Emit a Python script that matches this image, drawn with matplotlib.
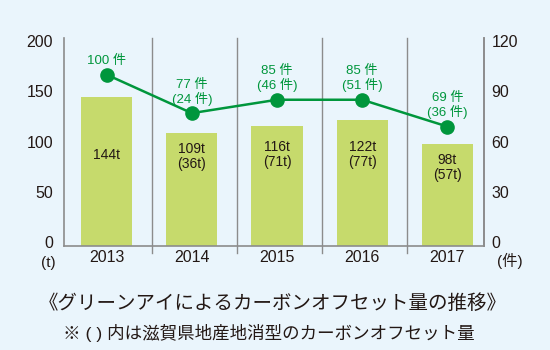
"""Green Eye carbon offset chart."""
import matplotlib
matplotlib.use("Agg")
import matplotlib.pyplot as plt

years = ["2013", "2014", "2015", "2016", "2017"]
offset_t = [144, 109, 116, 122, 98]
local_t = [None, 36, 71, 77, 57]
cases = [100, 77, 85, 85, 69]
local_cases = [None, 24, 46, 51, 36]

plt.rcParams["font.family"] = ["Liberation Sans", "Noto Sans CJK JP"]

bg = "#eaf5fc"
bar_color = "#c6da6c"
green = "#00963c"
axis_gray = "#8c8c8c"
text_color = "#231815"

fig = plt.figure(figsize=(5.5, 3.5), dpi=100, facecolor=bg)
ax = fig.add_axes([0.1164, 0.297, 0.7636, 0.594])
ax.set_facecolor(bg)

x = list(range(len(years)))
base = -4
ax.bar(x, [v - base for v in offset_t], bottom=base, width=0.6,
       color=bar_color, zorder=2)
ax.set_ylim(base, 203)
ax.set_xlim(-0.5, 4.43)
ax.set_yticks([0, 50, 100, 150, 200])
ax.set_xticks(x)
ax.set_xticklabels(years)
ax.tick_params(length=0, labelsize=11.5, colors=text_color)
ax.tick_params(axis="x", pad=3)
ax.tick_params(axis="y", pad=8)

ax.spines["top"].set_visible(False)
for s in ["left", "right", "bottom"]:
    ax.spines[s].set_color(axis_gray)
    ax.spines[s].set_linewidth(1.2)

# separators between years
for i in range(len(years) - 1):
    ax.axvline(i + 0.53, ymin=-0.034, ymax=1, color=axis_gray, lw=1.0,
               clip_on=False, zorder=1)

# labels inside bars
for i, v in enumerate(offset_t):
    label = f"{v}t" if local_t[i] is None else f"{v}t\n({local_t[i]}t)"
    ax.text(i, min(v - 24, 87), label, ha="center", va="center",
            fontsize=10, color=text_color, linespacing=1.1, zorder=3)

ax2 = ax.twinx()
ax2.set_ylim(base * 0.6, 203 * 0.6)
ax2.set_yticks([0, 30, 60, 90, 120])
ax2.tick_params(length=0, labelsize=11.5, colors=text_color, pad=5.5)
for s in ["top", "left", "bottom"]:
    ax2.spines[s].set_visible(False)
ax2.spines["right"].set_color(axis_gray)
ax2.spines["right"].set_linewidth(1.2)

ax2.plot(x, cases, color=green, lw=1.8, marker="o", markersize=9.5, zorder=4)
for i, v in enumerate(cases):
    label = f"{v} 件" if local_cases[i] is None else f"{v} 件\n({local_cases[i]} 件)"
    ax2.annotate(label, (i, v), xytext=(0, 5.5), textcoords="offset points",
                 ha="center", va="bottom", fontsize=9.5, color=green,
                 linespacing=1.05)

fig.text(48 / 550, 1 - 263 / 350, "(t)", ha="center", va="center",
         fontsize=11, color=text_color)
fig.text(510 / 550, 1 - 261 / 350, "(件)", ha="center", va="center",
         fontsize=11, color=text_color)

fig.text(0.495, 1 - 304 / 350, "《グリーンアイによるカーボンオフセット量の推移》",
         ha="center", va="center", fontsize=14, color=text_color)
fig.text(0.489, 1 - 333 / 350, "※ ( ) 内は滋賀県地産地消型のカーボンオフセット量",
         ha="center", va="center", fontsize=12.6, color=text_color)

fig.savefig("out.png", dpi=100, facecolor=bg)
plt.close()
